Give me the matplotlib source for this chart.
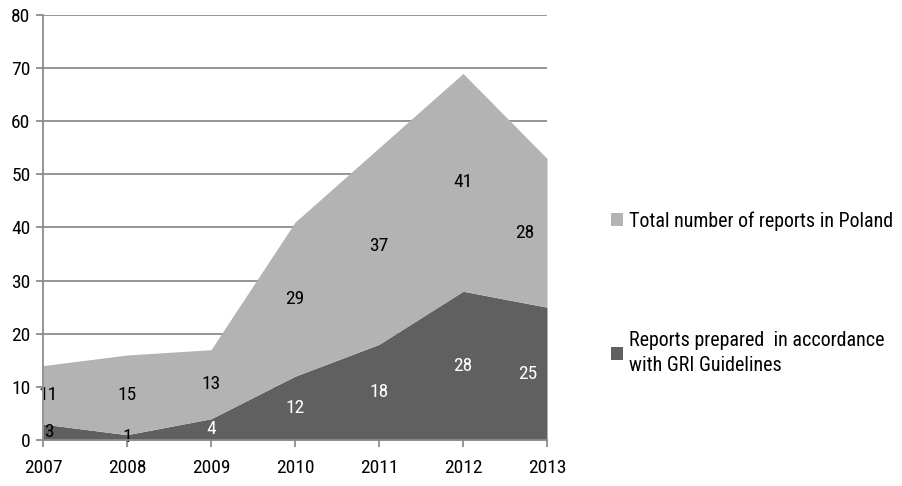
import matplotlib
matplotlib.use('Agg')
import matplotlib.pyplot as plt
from matplotlib.patches import Patch
import numpy as np

# Sustainability reporting in Poland, 2007-2013
years = [2007, 2008, 2009, 2010, 2011, 2012, 2013]
gri_reports = [3, 1, 4, 12, 18, 28, 25]
other_reports = [11, 15, 13, 29, 37, 41, 28]

label_total = 'Total number of reports in Poland'
label_gri = 'Reports prepared  in accordance\nwith GRI Guidelines'

plt.rcParams['font.family'] = ['Roboto Condensed', 'Liberation Sans Narrow',
                               'DejaVu Sans Condensed', 'DejaVu Sans']

DARK = '#606060'
LIGHT = '#b3b3b3'
GRID = '#8c8c8c'
FS = 14

fig = plt.figure(figsize=(9.02, 4.86), dpi=100)
ax = fig.add_axes([43 / 902, 1 - 440 / 486, 504 / 902, 425 / 486])

x = np.array(years)
low = np.array(gri_reports)
high = low + np.array(other_reports)

ax.fill_between(x, 0, low, color=DARK, linewidth=0, zorder=2)
ax.fill_between(x, low, high, color=LIGHT, linewidth=0, zorder=2)

# value labels in the middle of each band; end labels pulled inward
n = len(years)
for i, (xi, g, o) in enumerate(zip(x, gri_reports, other_reports)):
    if i == 0:
        dx_top, dx_bot = 4, 4
    elif i == n - 1:
        dx_top, dx_bot = -16, -14
    else:
        dx_top, dx_bot = 0, 0
    ax.annotate(str(o), (xi, g + o / 2), xytext=(dx_top, 0),
                textcoords='offset points', ha='center', va='center',
                fontsize=FS, color='black', zorder=3)
    ax.annotate(str(g), (xi, g / 2), xytext=(dx_bot, 0),
                textcoords='offset points', ha='center', va='center',
                fontsize=FS, color='white' if g >= 4 else 'black', zorder=3)

ax.set_xlim(2007, 2013)
ax.set_ylim(0, 80)
ax.set_xticks(years)
ax.set_yticks(range(0, 81, 10))
ax.yaxis.grid(True, color=GRID, linewidth=1.3, zorder=1)
ax.set_axisbelow(True)

for side in ['top', 'right']:
    ax.spines[side].set_visible(False)
for side in ['left', 'bottom']:
    ax.spines[side].set_color(GRID)
    ax.spines[side].set_linewidth(1.3)
    ax.spines[side].set_zorder(4)

ax.tick_params(axis='x', colors=GRID, length=5, width=1.3, pad=9,
               labelsize=FS, labelcolor='black')
ax.tick_params(axis='y', colors=GRID, length=5, width=1.3, pad=4,
               labelsize=FS, labelcolor='black')

handles = [Patch(facecolor=LIGHT, edgecolor='none'),
           Patch(facecolor=DARK, edgecolor='none')]
leg = fig.legend(handles, [label_total, label_gri], loc='upper left',
                 bbox_to_anchor=(593 / 902, 1 - 193 / 486), frameon=False,
                 fontsize=14.4, handlelength=0.6, handleheight=0.6,
                 handletextpad=0.3, labelspacing=5.0)
for t in leg.get_texts():
    t.set_linespacing(1.45)

plt.savefig('out.png', dpi=100)
